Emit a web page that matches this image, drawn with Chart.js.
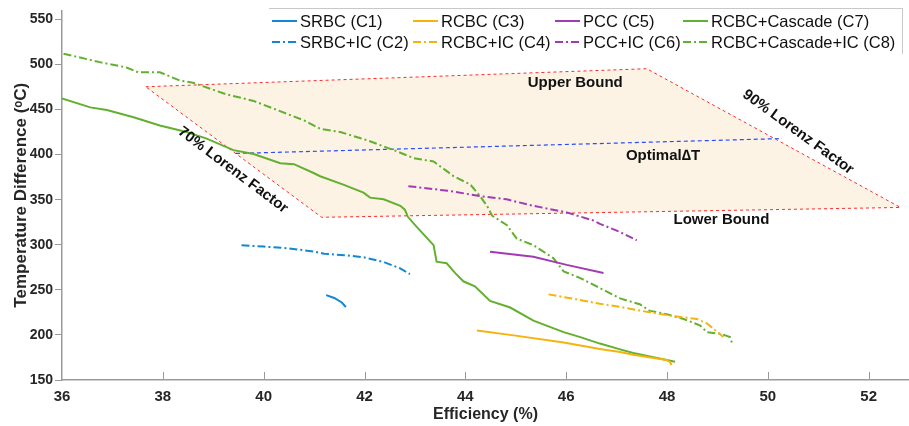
<!DOCTYPE html>
<html>
<head>
<meta charset="utf-8">
<script src="https://cdn.jsdelivr.net/npm/chart.js@4.4.1/dist/chart.umd.min.js"></script>
<style>
html,body{margin:0;padding:0;background:#fff;}
#wrap{width:909px;height:426px;position:relative;}
</style>
</head>
<body>
<div id="wrap"><canvas id="c" width="909" height="426"></canvas></div>
<script>
// ---- data ----
const xTicks = [36, 38, 40, 42, 44, 46, 48, 50, 52];
const yTicks = [150, 200, 250, 300, 350, 400, 450, 500, 550];

const seriesLabels = ['SRBC (C1)', 'SRBC+IC (C2)', 'RCBC (C3)', 'RCBC+IC (C4)',
                      'PCC (C5)', 'PCC+IC (C6)', 'RCBC+Cascade (C7)', 'RCBC+Cascade+IC (C8)'];

const c1 = [[41.24,244.2],[41.40,241.0],[41.55,236.0],[41.63,231.0]];
const c2 = [[39.56,299.5],[40.0,298.0],[40.5,296.0],[41.0,292.5],[41.2,290.0],[41.6,288.5],
            [42.0,286.0],[42.4,280.5],[42.7,274.0],[42.9,267.5]];
const c3 = [[44.23,204.9],[44.96,199.5],[45.95,191.5],[46.67,184.5],[47.07,181.0],[47.33,178.0],
            [47.99,172.1],[48.06,170.0],[48.09,166.7]];
const c4 = [[45.65,245.0],[46.2,239.5],[46.67,234.5],[47.07,231.1],[47.46,227.0],[47.99,222.0],
            [48.59,217.7],[48.79,212.9],[48.96,204.9],[49.12,197.6]];
const c5 = [[44.49,292.3],[45.35,286.8],[46.01,277.7],[46.74,268.6]];
const c6 = [[42.87,365.0],[43.70,359.6],[44.29,354.0],[44.82,350.4],[45.35,343.2],[46.01,335.9],
            [46.54,326.9],[46.67,323.2],[47.07,314.1],[47.40,305.0]];
const c7 = [[36.0,462.2],[36.56,452.4],[36.89,449.4],[37.42,441.5],[37.94,432.3],[38.47,425.1],
            [38.87,417.8],[39.40,405.0],[39.80,400.7],[40.33,390.5],[40.60,389.4],[40.99,379.6],
            [41.12,376.0],[41.58,366.8],[41.98,357.8],[42.11,352.3],[42.38,350.4],[42.71,343.2],
            [42.80,339.0],[42.86,331.0],[43.04,319.5],[43.37,299.6],[43.43,281.3],[43.63,279.5],
            [43.80,268.6],[43.96,259.5],[44.19,254.0],[44.49,237.7],[44.89,230.4],[45.35,215.8],
            [45.95,203.1],[46.28,197.6],[46.67,190.4],[47.07,184.0],[47.33,180.0],[48.16,170.3]];
const c8 = [[36.03,512.0],[36.75,502.6],[37.28,496.7],[37.51,491.3],[37.94,491.3],[38.34,482.2],
            [38.6,479.7],[39.26,466.9],[39.80,459.6],[40.52,444.0],[40.80,438.0],[41.12,428.7],
            [41.52,425.0],[42.05,416.0],[42.58,405.0],[42.98,396.0],[43.37,392.4],[43.77,376.0],
            [44.10,366.8],[44.29,354.0],[44.43,343.2],[44.53,332.3],[44.82,322.0],[45.02,306.8],
            [45.35,299.6],[45.75,285.0],[45.95,270.4],[46.28,263.1],[46.67,252.0],[47.07,240.5],
            [47.46,234.0],[47.66,226.7],[47.99,223.1],[48.33,217.7],[48.66,210.4],[48.79,203.1],
            [49.06,201.3],[49.25,197.6],[49.29,191.0]];
const boundRegion = [[37.66,475.3],[47.60,495.3],[52.63,341.4],[41.15,330.5],[37.66,475.3]];
const optimalDT = [[39.45,401.3],[50.0,417.4],[50.28,417.8]];

const annotations = [
  {text:'Upper Bound', x:46.18, y:480, rot:0},
  {text:'Optimal\u2206T', x:47.92, y:399, rot:0},
  {text:'Lower Bound', x:49.08, y:328, rot:0},
  {text:'70% Lorenz Factor', x:39.39, y:383, rot:37},
  {text:'90% Lorenz Factor', x:50.6, y:425, rot:36}
];

// ---- styles ----
const BLUE='#1386d4', ORANGE='#f6b30e', PURPLE='#a23bb3', GREEN='#63b030';
const DASHDOT=[8,3,2,3];
const colors=[BLUE,BLUE,ORANGE,ORANGE,PURPLE,PURPLE,GREEN,GREEN];
const series=[c1,c2,c3,c4,c5,c6,c7,c8];
const toXY = a => a.map(p => ({x:p[0], y:p[1]}));

const datasets = series.map((s,i)=>({
  label: seriesLabels[i],
  data: toXY(s),
  borderColor: colors[i],
  backgroundColor: colors[i],
  borderWidth: 2,
  borderDash: i%2===1 ? DASHDOT : [],
  pointRadius: 0,
  fill: false,
  tension: 0,
  order: 1
}));
datasets.push({
  label: 'bounds', data: toXY(boundRegion), borderColor:'#ff2a2a', borderWidth:1,
  borderDash:[3,3], backgroundColor:'#fcf3e4', fill:'shape', pointRadius:0, order:10, tension:0
});
datasets.push({
  label: 'optimal', data: toXY(optimalDT), borderColor:'#2a4cff', borderWidth:1.2,
  borderDash:[4,3], pointRadius:0, fill:false, order:5, tension:0
});

const TXT='#262626';
const FONT='"Liberation Sans", Arial, sans-serif';

const extras = {
  id:'extras',
  beforeDatasetsDraw(chart){
    const ctx=chart.ctx, xs=chart.scales.x, ys=chart.scales.y;
    ctx.save();
    ctx.strokeStyle='#9a9a9a'; ctx.lineWidth=1;
    const yb=ys.bottom;
    xTicks.forEach(v=>{
      if(v===xs.min) return;
      const px=Math.round(xs.getPixelForValue(v))+0.5;
      ctx.beginPath(); ctx.moveTo(px,yb); ctx.lineTo(px,yb-8); ctx.stroke();
    });
    ctx.restore();
  },
  afterDatasetsDraw(chart){
    const ctx=chart.ctx, xs=chart.scales.x, ys=chart.scales.y;
    ctx.save();
    ctx.fillStyle='#111';
    ctx.font='bold 15px '+FONT;
    ctx.textAlign='center'; ctx.textBaseline='middle';
    annotations.forEach(a=>{
      ctx.save();
      ctx.translate(xs.getPixelForValue(a.x), ys.getPixelForValue(a.y));
      ctx.rotate(a.rot*Math.PI/180);
      ctx.fillText(a.text,0,0);
      ctx.restore();
    });
    // legend
    const L=269, T=8, R=902, B=54;
    ctx.fillStyle='#fff';
    ctx.fillRect(L,T,R-L,B-T);
    ctx.strokeStyle='#c8c8c8'; ctx.lineWidth=1;
    ctx.beginPath(); ctx.moveTo(L,T+0.5); ctx.lineTo(R+0.5,T+0.5); ctx.lineTo(R+0.5,B); ctx.stroke();
    const colX=[272,413,555,683], rowY=[21,42];
    ctx.font='16.5px '+FONT; ctx.textAlign='left'; ctx.textBaseline='middle';
    for(let i=0;i<8;i++){
      const ds=chart.data.datasets[i];
      const x=colX[Math.floor(i/2)], y=rowY[i%2];
      ctx.strokeStyle=ds.borderColor; ctx.lineWidth=2;
      ctx.setLineDash(ds.borderDash);
      ctx.beginPath(); ctx.moveTo(x,y); ctx.lineTo(x+25,y); ctx.stroke();
      ctx.setLineDash([]);
      ctx.fillStyle='#111';
      ctx.fillText(ds.label, x+28, y+1);
    }
    ctx.restore();
  }
};

new Chart(document.getElementById('c'), {
  type:'line',
  data:{datasets},
  plugins:[extras],
  options:{
    responsive:false, animation:false, devicePixelRatio:1,
    layout:{padding:{top:4,right:0,left:0,bottom:0}},
    plugins:{legend:{display:false}, tooltip:{enabled:false}},
    scales:{
      x:{
        type:'linear', min:36, max:52.8,
        afterBuildTicks:s=>{s.ticks=xTicks.map(v=>({value:v}));},
        afterFit:s=>{s.height=46;},
        grid:{drawOnChartArea:false, drawTicks:false},
        border:{display:true,color:'#9a9a9a',width:1.5},
        ticks:{color:TXT,font:{family:FONT,size:15,weight:'bold'},padding:8,maxRotation:0},
        title:{display:true,text:'Efficiency (%)',color:TXT,font:{family:FONT,size:16,weight:'bold'},padding:{top:0,bottom:2}}
      },
      y:{
        type:'linear', min:150, max:560,
        afterBuildTicks:s=>{s.ticks=yTicks.map(v=>({value:v}));},
        afterFit:s=>{s.width=62;},
        grid:{drawOnChartArea:false, drawTicks:true, tickLength:7, color:'#9a9a9a'},
        border:{display:true,color:'#9a9a9a',width:1.5},
        ticks:{color:TXT,font:{family:FONT,size:14,weight:'bold'},padding:2},
        title:{display:true,text:'Temperature Difference (\u1D52C)',color:TXT,font:{family:FONT,size:17,weight:'bold'},padding:{top:11,bottom:0}}
      }
    }
  }
});
</script>
</body>
</html>
